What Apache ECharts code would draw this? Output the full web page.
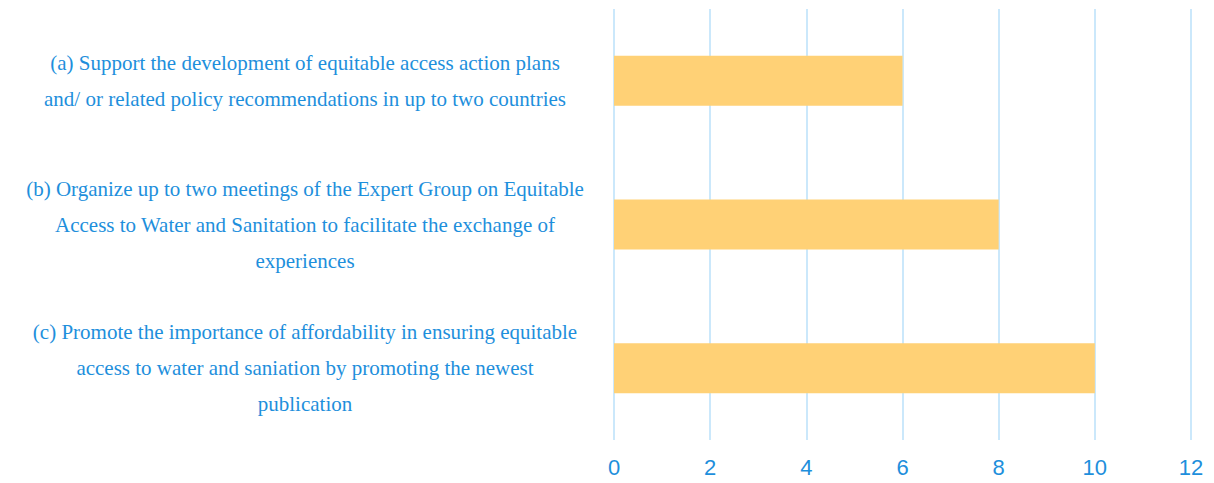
<!DOCTYPE html>
<html>
<head>
<meta charset="utf-8">
<script src="https://cdn.jsdelivr.net/npm/echarts@6/dist/echarts.min.js"></script>
<style>
  html, body { margin: 0; padding: 0; background: #ffffff; }
  #chart { width: 1214px; height: 483px; }
</style>
</head>
<body>
<div id="chart"></div>
<script>
const categories = [
  "(a) Support the development of equitable access action plans\nand/ or related policy recommendations in up to two countries",
  "(b) Organize up to two meetings of the Expert Group on Equitable\nAccess to Water and Sanitation to facilitate the exchange of\nexperiences",
  "(c) Promote the importance of affordability in ensuring equitable\naccess to water and saniation by promoting the newest\npublication",
];
const values = [6, 8, 10];
const xTicks = { min: 0, max: 12, interval: 2 };

const textBlue = "#1e8fdc";

const chart = echarts.init(document.getElementById("chart"), null, { renderer: "svg" });

chart.setOption({
  animation: false,
  grid: {
    left: 614,
    right: 23,
    top: 9,
    bottom: 43,
    containLabel: false,
  },
  xAxis: {
    type: "value",
    min: xTicks.min,
    max: xTicks.max,
    interval: xTicks.interval,
    axisLine: { show: false },
    axisTick: { show: false },
    axisLabel: {
      color: textBlue,
      fontSize: 22,
      fontFamily: "Liberation Sans, Arial, sans-serif",
      margin: 16,
    },
    splitLine: {
      lineStyle: { color: "#cbe8fb", width: 2 },
    },
  },
  yAxis: {
    type: "category",
    inverse: true,
    data: categories,
    axisLine: { show: false },
    axisTick: { show: false },
    axisLabel: {
      color: textBlue,
      fontSize: 21,
      fontFamily: "Liberation Serif, Times New Roman, serif",
      lineHeight: 36,
      align: "center",
      margin: 309,
    },
  },
  series: [
    {
      type: "bar",
      data: values,
      barWidth: 50,
      itemStyle: { color: "#ffd176" },
    },
  ],
});
</script>
</body>
</html>
